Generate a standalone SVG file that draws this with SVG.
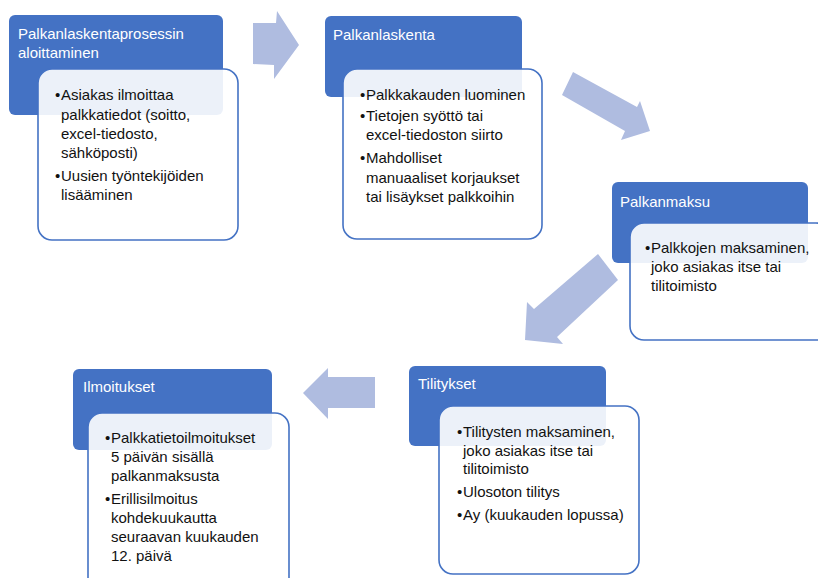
<svg xmlns="http://www.w3.org/2000/svg" width="818" height="578" viewBox="0 0 818 578">
<style>
.hdr{fill:#4472C4;}
.box{fill:#FFFFFF;fill-opacity:0.9;stroke:#4472C4;stroke-width:1.6;}
.arr{fill:#AFBCE0;}
.t{font-family:"Liberation Sans",Arial,sans-serif;font-size:15px;}
.ht{fill:#FFFFFF;}
.bt{fill:#111111;}
</style>
<rect width="818" height="578" fill="#FFFFFF"/>
<g id="connectors">
<polygon class="arr" points="253,23 276,23 277,11 299,45 274,79 274,65 253,64"/>
<polygon class="arr" points="573,72 637,107 640,101 650,131 621,140 625,131 562,95"/>
<polygon class="arr" points="598,254 618,280 557,337 563,344 525,340 527,302 534,309"/>
<polygon class="arr" points="375,377 328,377 328,368 303,393 328,419 328,408 375,408"/>
</g>
<g id="node1">
<rect class="hdr" x="9" y="15" width="214" height="100" rx="6"/>
<text class="t ht" x="18" y="39">Palkanlaskentaprosessin</text>
<text class="t ht" x="18" y="58">aloittaminen</text>
<rect class="box" x="38" y="69" width="200" height="171" rx="14"/>
<text class="t bt"><tspan x="55" y="100">•</tspan><tspan x="61" y="100">Asiakas ilmoittaa</tspan><tspan x="61" y="120">palkkatiedot (soitto,</tspan><tspan x="61" y="139">excel-tiedosto,</tspan><tspan x="61" y="158">sähköposti)</tspan><tspan x="55" y="181">•</tspan><tspan x="61" y="181">Uusien työntekijöiden</tspan><tspan x="61" y="200">lisääminen</tspan></text>
</g>
<g id="node2">
<rect class="hdr" x="325" y="16" width="197" height="81" rx="6"/>
<text class="t ht" x="333" y="40">Palkanlaskenta</text>
<rect class="box" x="343" y="69" width="199" height="170" rx="14"/>
<text class="t bt"><tspan x="360" y="100">•</tspan><tspan x="366" y="100">Palkkakauden luominen</tspan><tspan x="360" y="121">•</tspan><tspan x="366" y="121">Tietojen syöttö tai</tspan><tspan x="366" y="140">excel-tiedoston siirto</tspan><tspan x="360" y="163">•</tspan><tspan x="366" y="163">Mahdolliset</tspan><tspan x="366" y="183">manuaaliset korjaukset</tspan><tspan x="366" y="202">tai lisäykset palkkoihin</tspan></text>
</g>
<g id="node3">
<rect class="hdr" x="612" y="182" width="196" height="81" rx="6"/>
<text class="t ht" x="620" y="207">Palkanmaksu</text>
<rect class="box" x="630" y="223" width="200" height="117" rx="14"/>
<text class="t bt"><tspan x="645" y="253">•</tspan><tspan x="651" y="253">Palkkojen maksaminen,</tspan><tspan x="651" y="272">joko asiakas itse tai</tspan><tspan x="651" y="291">tilitoimisto</tspan></text>
</g>
<g id="node4">
<rect class="hdr" x="409" y="366" width="197" height="80" rx="6"/>
<text class="t ht" x="418" y="389">Tilitykset</text>
<rect class="box" x="439" y="406" width="200" height="168" rx="14"/>
<text class="t bt"><tspan x="457" y="437">•</tspan><tspan x="463" y="437">Tilitysten maksaminen,</tspan><tspan x="463" y="456">joko asiakas itse tai</tspan><tspan x="463" y="474">tilitoimisto</tspan><tspan x="457" y="497">•</tspan><tspan x="463" y="497">Ulosoton tilitys</tspan><tspan x="457" y="520">•</tspan><tspan x="463" y="520">Ay (kuukauden lopussa)</tspan></text>
</g>
<g id="node5">
<rect class="hdr" x="73" y="369" width="199" height="81" rx="6"/>
<text class="t ht" x="83" y="392">Ilmoitukset</text>
<rect class="box" x="88" y="413" width="201" height="190" rx="14"/>
<text class="t bt"><tspan x="105" y="443">•</tspan><tspan x="111" y="443">Palkkatietoilmoitukset</tspan><tspan x="111" y="462">5 päivän sisällä</tspan><tspan x="111" y="481">palkanmaksusta</tspan><tspan x="105" y="504">•</tspan><tspan x="111" y="504">Erillisilmoitus</tspan><tspan x="111" y="523">kohdekuukautta</tspan><tspan x="111" y="542">seuraavan kuukauden</tspan><tspan x="111" y="561">12. päivä</tspan></text>
</g>
</svg>
